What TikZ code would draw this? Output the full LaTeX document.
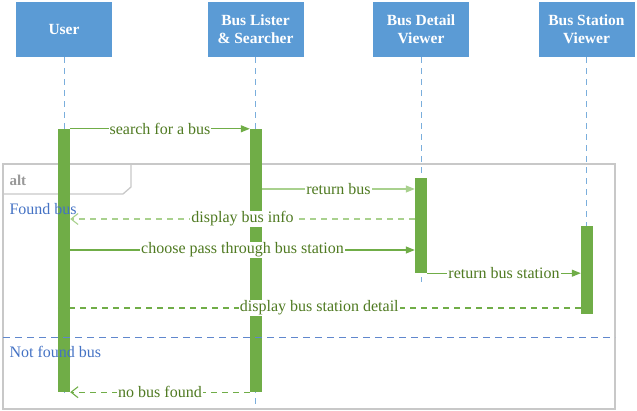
\documentclass[tikz,border=0pt]{standalone}
\usepackage{fontspec}
\setmainfont{Liberation Serif}
\usetikzlibrary{arrows.meta}
\definecolor{headblue}{HTML}{5B9BD5}
\definecolor{lifeblue}{HTML}{7AAEDC}
\definecolor{actgreen}{HTML}{70AD47}
\definecolor{palegreen}{HTML}{A9D18E}
\definecolor{msgtext}{HTML}{4F7A21}
\definecolor{framegray}{HTML}{C8C8C8}
\definecolor{regionblue}{HTML}{4472C4}
\begin{document}
\begin{tikzpicture}[x=1pt, y=-1pt,
        msg/.style={draw=actgreen, line width=1.1pt, -{Triangle[length=9pt, width=7pt]}},
        reply/.style={draw=actgreen, line width=1.1pt, dash pattern=on 6pt off 5pt, -{Straight Barb[length=7pt, width=11pt]}},
        msglabel/.style={fill=white, inner sep=1pt, text=msgtext, font=\fontsize{16}{19}\selectfont}]
    \tikzset{head/.style={rectangle, fill=headblue, minimum width=96pt, minimum height=55pt, text=white, align=center, font=\bfseries\fontsize{15.5}{18}\selectfont}};
    \tikzset{lifeline/.style={draw=lifeblue, line width=1pt, dash pattern=on 6pt off 5pt}};
    \tikzset{act/.style={rectangle, fill=actgreen, minimum width=12pt, inner sep=0pt}};
    \tikzset{frame/.style={draw=framegray, line width=1.3pt}};
    \useasboundingbox (0,0) rectangle (637,411);

    % alt frame
    \draw[frame] (3,164) rectangle (615,409);
    \draw[frame] (3,194) -- (123,194) -- (131,187) -- (131,164);
    \node[anchor=west, text=gray!80, font=\bfseries\fontsize{15}{18}\selectfont] (alt) at (6,180) {alt};

    % participants
    \node[head] (user) at (64, 29.5) {User};
    \node[head] (lister) at (255.5, 29.5) {Bus Lister\\\& Searcher};
    \node[head] (detail) at (421, 29.5) {Bus Detail\\Viewer};
    \node[head] (station) at (586.5, 29.5) {Bus Station\\Viewer};

    % lifelines
    \coordinate (userend) at (64, 398);
    \coordinate (listerend) at (255.5, 409);
    \coordinate (detailend) at (421, 282);
    \coordinate (stationend) at (586.5, 314);
    \draw[lifeline] (user.south) -- (userend);
    \draw[lifeline] (lister.south) -- (listerend);
    \draw[lifeline] (detail.south) -- (detailend);
    \draw[lifeline] (station.south) -- (stationend);

    % activations
    \node[act, minimum height=263pt] (useract) at (64, 260.5) {};
    \node[act, minimum height=263pt] (listeract) at (256, 260.5) {};
    \node[act, minimum height=95pt] (detailact) at (421, 225.5) {};
    \node[act, minimum height=88pt] (stationact) at (587, 270) {};

    % messages
    \draw[msg] (useract.north east) -- (listeract.north west)
        node[midway, msglabel] {search for a bus};
    \draw[msg, draw=palegreen] (listeract.east |- 0,189) -- (detailact.west |- 0,189)
        node[midway, msglabel] {return bus};
    \draw[reply, draw=palegreen] (detailact.west |- 0,219) -- (useract.east |- 0,219)
        node[midway, msglabel] {display bus info};
    \draw[msg] (useract.east |- 0,250) -- (detailact.west |- 0,250)
        node[midway, msglabel] {choose pass through bus station};
    \draw[msg] (detailact.south east) -- (stationact.west |- detailact.south)
        node[midway, msglabel] {return bus station};
    \draw[reply] (stationact.west |- 0,308) -- (useract.west |- 0,308)
        node[midway, msglabel] {display bus station detail};
    \draw[reply] (listeract.south west) -- (useract.south east)
        node[midway, msglabel] {no bus found};

    % operands
    \draw[draw=regionblue!85, line width=1pt, dash pattern=on 7pt off 5pt] (3,338) -- (615,338);
    \node[anchor=west, text=regionblue, font=\fontsize{16}{19}\selectfont] (found) at (6,209) {Found bus};
    \node[anchor=west, text=regionblue, font=\fontsize{16}{19}\selectfont] (notfound) at (6,352) {Not found bus};
\end{tikzpicture}
\end{document}
